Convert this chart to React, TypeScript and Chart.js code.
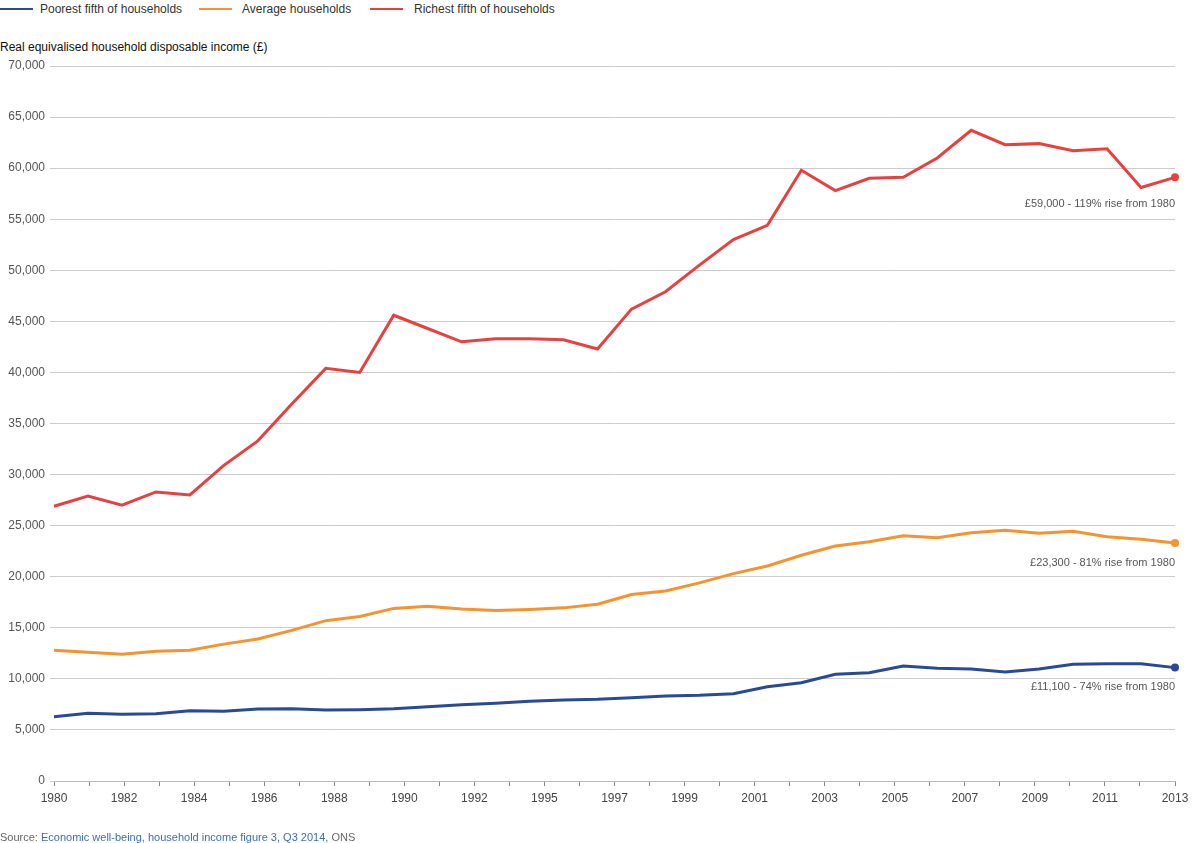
import React, { useEffect, useRef } from "react";
import { Chart, registerables } from "chart.js";

Chart.register(...registerables);

// 34 data years (evenly spaced across the axis)
const dataYears = [
  "1980", "1981", "1982", "1983", "1984", "1985", "1986", "1987", "1988", "1989",
  "1990", "1991", "1992", "1993", "1994", "1995", "1996", "1997", "1998", "1999",
  "2000", "2001", "2002", "2003", "2004", "2005", "2006", "2007", "2008", "2009",
  "2010", "2011", "2012", "2013",
];

// 33 axis tick positions; only every other one is labelled
const axisLabels = [
  "1980", "1981", "1982", "1983", "1984", "1985", "1986", "1987", "1988", "1989",
  "1990", "1991", "1992", "1993", "1995", "1996", "1997", "1998", "1999", "2000",
  "2001", "2002", "2003", "2004", "2005", "2006", "2007", "2008", "2009", "2010",
  "2011", "2012", "2013",
];

const poorest = [
  6300, 6630, 6530, 6590, 6880, 6820, 7050, 7080, 6950, 6980,
  7080, 7280, 7470, 7600, 7800, 7930, 8000, 8160, 8320, 8390,
  8550, 9230, 9620, 10440, 10600, 11260, 11030, 10960, 10670, 10960,
  11420, 11480, 11480, 11100,
];

const average = [
  12800, 12600, 12400, 12700, 12800, 13400, 13900, 14750, 15700, 16100,
  16900, 17100, 16850, 16700, 16800, 16950, 17300, 18250, 18600, 19400,
  20300, 21050, 22100, 23000, 23430, 24020, 23820, 24310, 24540, 24250,
  24450, 23920, 23660, 23300,
];

const richest = [
  26900, 27900, 27000, 28300, 28000, 30900, 33300, 36900, 40400, 40000,
  45600, 44300, 43000, 43300, 43300, 43200, 42300, 46200, 47900, 50500,
  53000, 54400, 59800, 57800, 59000, 59100, 61000, 63700, 62300, 62400,
  61700, 61900, 58100, 59100,
];

const seriesNames = ["Poorest fifth of households", "Average households", "Richest fifth of households"];
const seriesColors = ["#284a97", "#f6932f", "#e8403f"];
const endNotes = [
  "£11,100 - 74% rise from 1980",
  "£23,300 - 81% rise from 1980",
  "£59,000 - 119% rise from 1980",
];
const yTitle = "Real equivalised household disposable income (£)";

const FONT = '"Liberation Sans", Arial, Helvetica, sans-serif';
const noteOffsets = [19, 20, 27];

const endNotePlugin = {
  id: "endNotes",
  afterDatasetsDraw(chart: any) {
    const ctx = chart.ctx;
    ctx.save();
    ctx.font = `11px ${FONT}`;
    ctx.fillStyle = "#555";
    ctx.textAlign = "right";
    ctx.textBaseline = "middle";
    chart.data.datasets.forEach((_ds: any, i: number) => {
      const meta = chart.getDatasetMeta(i);
      const pt = meta.data[meta.data.length - 1];
      if (pt) ctx.fillText(endNotes[i], chart.chartArea.right, pt.y + noteOffsets[i]);
    });
    ctx.restore();
  },
};

export default function App() {
  const canvasRef = useRef<HTMLCanvasElement | null>(null);

  useEffect(() => {
    if (!canvasRef.current) return;
    Chart.defaults.font.family = FONT;
    const series = [poorest, average, richest];
    const chart = new Chart(canvasRef.current, {
      type: "line",
      data: {
        labels: dataYears,
        datasets: series.map((vals, i) => ({
          label: seriesNames[i],
          data: vals.map((v, k) => ({ x: k, y: v })),
          borderColor: seriesColors[i],
          backgroundColor: seriesColors[i],
          borderWidth: 3,
          tension: 0,
          pointRadius: (c: any) => (c.dataIndex === vals.length - 1 ? 4 : 0),
          pointBorderWidth: 0,
          pointHoverRadius: 0,
          clip: false,
          fill: false,
        })),
      },
      options: {
        animation: false,
        responsive: false,
        layout: { padding: { top: 66, left: 0, right: 25, bottom: 37 } },
        plugins: {
          legend: { display: false },
          title: { display: false },
          tooltip: { enabled: false },
        },
        scales: {
          x: {
            type: "linear",
            display: false,
            min: 0,
            max: dataYears.length - 1,
          },
          xLab: {
            type: "linear",
            position: "bottom",
            min: 0,
            max: axisLabels.length - 1,
            afterFit: (s: any) => {
              s.height = 25;
            },
            ticks: {
              stepSize: 1,
              autoSkip: false,
              maxRotation: 0,
              padding: 5,
              color: "#444",
              font: { size: 12, family: FONT },
              callback: (v: any) => {
                const n = Math.round(Number(v));
                return n % 2 === 0 ? axisLabels[n] : "";
              },
            },
            grid: {
              drawOnChartArea: false,
              drawTicks: true,
              tickLength: 5,
              color: "#888",
            },
            border: { display: true, color: "#bbb", width: 1 },
          },
          y: {
            type: "linear",
            min: 0,
            max: 70000,
            afterFit: (s: any) => {
              s.width = 54;
            },
            ticks: {
              stepSize: 5000,
              padding: 5,
              color: "#555",
              font: { size: 12, family: FONT },
              callback: (v: any) => Number(v).toLocaleString("en-GB"),
            },
            grid: {
              color: "#cccccc",
              lineWidth: 1,
              tickLength: 4,
              drawTicks: true,
            },
            border: { display: false },
          },
        },
      },
      plugins: [endNotePlugin],
    } as any);
    return () => chart.destroy();
  }, []);

  const legendPos = [
    { line: 0, text: 40 },
    { line: 199, text: 242 },
    { line: 370, text: 414 },
  ];

  return (
    <div
      style={{
        position: "absolute",
        left: 0,
        top: 0,
        width: 1200,
        height: 843,
        background: "#fff",
        fontFamily: FONT,
        overflow: "hidden",
      }}
    >
      {seriesNames.map((name, i) => (
        <React.Fragment key={name}>
          <div
            style={{
              position: "absolute",
              left: legendPos[i].line,
              top: 8,
              width: 33,
              height: 2,
              background: seriesColors[i],
            }}
          />
          <div
            style={{
              position: "absolute",
              left: legendPos[i].text,
              top: 1,
              fontSize: 12,
              lineHeight: "16px",
              color: "#333",
              whiteSpace: "nowrap",
            }}
          >
            {name}
          </div>
        </React.Fragment>
      ))}
      <div
        style={{
          position: "absolute",
          left: 0,
          top: 39,
          fontSize: 12,
          lineHeight: "16px",
          color: "#111",
          whiteSpace: "nowrap",
        }}
      >
        {yTitle}
      </div>
      <canvas
        ref={canvasRef}
        width={1200}
        height={843}
        style={{ position: "absolute", left: 0, top: 0, width: 1200, height: 843 }}
      />
      <div
        style={{
          position: "absolute",
          left: 0,
          top: 830,
          fontSize: 11,
          lineHeight: "14px",
          color: "#666",
          whiteSpace: "nowrap",
        }}
      >
        Source: <span style={{ color: "#3b6cc0" }}>Economic well-being, household income figure 3, Q3 2014</span>, ONS
      </div>
    </div>
  );
}
